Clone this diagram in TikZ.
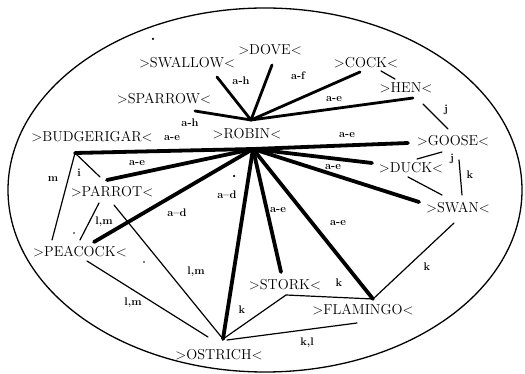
\documentclass[tikz,border=0pt]{standalone}
\usepackage{fontspec}
\begin{document}
\begin{tikzpicture}[x=1pt,y=-1pt,
  bird/.style={inner sep=0pt, font=\fontsize{14.4}{16}\selectfont\addfontfeatures{FakeBold=1.2}},
  lab/.style={inner sep=0pt, font=\fontsize{11}{12}\selectfont\bfseries},
  heavy/.style={line width=3.8pt, line cap=round},
  medium/.style={line width=2.8pt, line cap=round},
  light/.style={line width=1.2pt, line cap=round},
  speck/.style={fill=black, inner sep=0pt, minimum size=2.5pt, circle}]
\useasboundingbox (0,0) rectangle (525,374);
\draw[line width=1.3pt] (265,190) ellipse [x radius=257pt, y radius=182pt];

% bird names
\node[bird] (swallow) at (187,63) {>SWALLOW<};
\node[bird] (dove) at (270,50) {>DOVE<};
\node[bird] (cock) at (366,63) {>COCK<};
\node[bird] (hen) at (406,88) {>HEN<};
\node[bird] (sparrow) at (164,99) {>SPARROW<};
\node[bird] (budgerigar) at (92,137) {>BUDGERIGAR<};
\node[bird] (robin) at (247,134) {>ROBIN<};
\node[bird] (goose) at (453,141) {>GOOSE<};
\node[bird] (duck) at (411,168) {>DUCK<};
\node[bird] (parrot) at (112,192) {>PARROT<};
\node[bird] (swan) at (458,208) {>SWAN<};
\node[bird] (peacock) at (80,252) {>PEACOCK<};
\node[bird] (stork) at (285,285) {>STORK<};
\node[bird] (flamingo) at (363,310) {>FLAMINGO<};
\node[bird] (ostrich) at (219,355) {>OSTRICH<};

% line end points
\coordinate (hubU) at (251,120);
\coordinate (hubL) at (253,149);
\coordinate (sw1) at (217,77);
\coordinate (sp1) at (195,111);
\coordinate (dv1) at (272,65);
\coordinate (ck1) at (360,72);
\coordinate (hn1) at (413,98);
\coordinate (bg1) at (75,153);
\coordinate (gs1) at (408,143);
\coordinate (dk1) at (372,163);
\coordinate (sn1) at (419,202);
\coordinate (pr1) at (107,180);
\coordinate (pc1) at (94,242);
\coordinate (os1) at (223,339);
\coordinate (st1) at (281,272);
\coordinate (fl1) at (373,299);
\coordinate (ck2) at (381,71);
\coordinate (hn2) at (395,79);
\coordinate (hn3) at (423,104);
\coordinate (gs2) at (448,129);
\coordinate (dk2) at (417,159);
\coordinate (gs3) at (442,152);
\coordinate (gs4) at (459,160);
\coordinate (sn2) at (462,195);
\coordinate (dk3) at (408,177);
\coordinate (sn3) at (442,195);
\coordinate (sn4) at (454,223);
\coordinate (st2) at (286,295);
\coordinate (os2) at (227,340);
\coordinate (fl2) at (357,323);
\coordinate (pr2) at (100,177);
\coordinate (pc2) at (52,240);
\coordinate (pr3) at (99,203);
\coordinate (pc3) at (80,240);
\coordinate (pr4) at (114,205);
\coordinate (pc4) at (87,261);
\coordinate (os3) at (208,337);

% radial lines from ROBIN
\draw[medium] (sw1) -- (hubU);
\draw[medium] (sp1) -- (hubU);
\draw[medium] (dv1) -- (hubU);
\draw[medium] (ck1) -- (hubU);
\draw[medium] (hn1) -- (hubU);
\draw[heavy] (bg1) -- (hubL);
\draw[heavy] (gs1) -- (hubL);
\draw[heavy] (dk1) -- (hubL);
\draw[heavy] (sn1) -- (hubL);
\draw[heavy] (pr1) -- (hubL);
\draw[heavy] (pc1) -- (hubL);
\draw[heavy] (os1) -- (hubL);
\draw[heavy] (st1) -- (hubL);
\draw[heavy] (fl1) -- (hubL);

% thin lines
\draw[light] (ck2) -- (hn2);
\draw[light] (hn3) -- (gs2);
\draw[light] (dk2) -- (gs3);
\draw[light] (gs4) -- (sn2);
\draw[light] (dk3) -- (sn3);
\draw[light] (sn4) -- (fl1);
\draw[light] (st2) -- (fl1);
\draw[light] (st2) -- (os1);
\draw[light] (os2) -- (fl2);
\draw[light] (bg1) -- (pr2);
\draw[light] (bg1) -- (pc2);
\draw[light] (pr3) -- (pc3);
\draw[light] (pr4) -- (os1);
\draw[light] (pc4) -- (os3);

% labels
\node[lab] (l1) at (241,81) {a-h};
\node[lab] (l2) at (190,123) {a-h};
\node[lab] (l3) at (298,76) {a-f};
\node[lab] (l4) at (334,99) {a-e};
\node[lab] (l5) at (172,138) {a-e};
\node[lab] (l6) at (347,135) {a-e};
\node[lab] (l7) at (333,167) {a-e};
\node[lab] (l8) at (137,163) {a-e};
\node[lab] (l9) at (177,213) {a--d};
\node[lab] (l10) at (227,195) {a--d};
\node[lab] (l11) at (278,210) {a-e};
\node[lab] (l12) at (338,223) {a-e};
\node[lab] (l13) at (242,310) {k};
\node[lab] (l14) at (339,283) {k};
\node[lab] (l15) at (427,267) {k};
\node[lab] (l16) at (307,343) {k,l};
\node[lab] (l17) at (104,222) {l,m};
\node[lab] (l18) at (196,272) {l,m};
\node[lab] (l19) at (133,303) {l,m};
\node[lab] (l20) at (53,179) {m};
\node[lab] (l21) at (79,173) {i};
\node[lab] (l22) at (446,110) {j};
\node[lab] (l23) at (452,159) {j};
\node[lab] (l24) at (470,175) {k};

% stray specks
\node[speck] (d1) at (153,39) {};
\node[speck] (d2) at (234,176) {};
\node[speck, minimum size=1.8pt] (d3) at (144,262) {};
\node[speck, minimum size=1.8pt] (d4) at (74,233) {};
\end{tikzpicture}
\end{document}
